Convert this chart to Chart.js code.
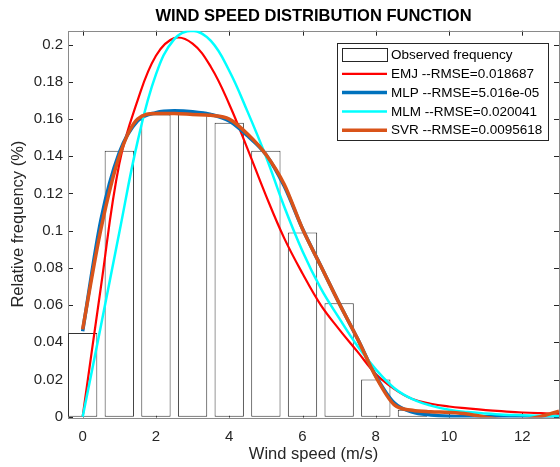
<!DOCTYPE html>
<html>
<head>
<meta charset="utf-8">
<script src="https://cdn.jsdelivr.net/npm/chart.js@4.4.1/dist/chart.umd.min.js"></script>
<style>
  body { margin: 0; background: #fff; }
</style>
</head>
<body>
<canvas id="windChart" width="560" height="467"></canvas>
<script>
// wind speed grid (m/s) for the fitted curves
const speeds = [0, 0.5, 1, 1.5, 2, 2.5, 3, 3.5, 4, 4.5, 5, 5.5, 6, 6.5, 7, 7.5, 8, 8.5, 9, 9.5, 10, 10.5, 11, 11.5, 12, 12.5, 13];

// histogram bins
const binCenters = [0, 1, 2, 3, 4, 5, 6, 7, 8, 9];
const observed = [0.045, 0.143, 0.1625, 0.164, 0.158, 0.143, 0.099, 0.061, 0.020, 0.0037];

// fitted curves
const emj = [0, 0.070, 0.136, 0.170, 0.194, 0.2035, 0.2005, 0.188, 0.168, 0.144, 0.119, 0.096, 0.077, 0.060, 0.047, 0.035, 0.023, 0.015, 0.0095, 0.007, 0.0055, 0.0045, 0.0036, 0.0029, 0.0023, 0.0019, 0.0016];
const mlp = [0.046, 0.106, 0.142, 0.159, 0.1635, 0.1645, 0.164, 0.1625, 0.159, 0.151, 0.141, 0.124, 0.101, 0.081, 0.061, 0.042, 0.022, 0.0075, 0.0025, 0.001, 0.0003, 0, 0, 0, 0, 0, 0];
const mlm = [0, 0.049, 0.099, 0.148, 0.184, 0.203, 0.2075, 0.202, 0.186, 0.164, 0.140, 0.113, 0.089, 0.069, 0.053, 0.038, 0.0255, 0.0155, 0.0095, 0.006, 0.0038, 0.0025, 0.0017, 0.0011, 0.0008, 0.0005, 0.0004];
const svr = [0.047, 0.101, 0.140, 0.160, 0.163, 0.163, 0.1625, 0.162, 0.160, 0.152, 0.141, 0.125, 0.101, 0.081, 0.061, 0.042, 0.0215, 0.0065, 0.0035, 0.0027, 0.0023, 0.0015, -0.0002, -0.0016, -0.0015, 0.0002, 0.003];

const xTicks = [0, 2, 4, 6, 8, 10, 12];
const yTicks = [0, 0.02, 0.04, 0.06, 0.08, 0.1, 0.12, 0.14, 0.16, 0.18, 0.2];

const FONT = 'Liberation Sans, Arial, sans-serif';

function toPoints(ys) {
  return ys.map((y, i) => ({ x: speeds[i], y: y }));
}

function curve(label, ys, color, width, order, smooth) {
  return {
    type: 'line',
    label: label,
    data: toPoints(ys),
    borderColor: color,
    borderWidth: width,
    pointRadius: 0,
    fill: false,
    cubicInterpolationMode: smooth ? 'default' : 'monotone',
    tension: 0.4,
    order: order
  };
}

// MATLAB style box with inward ticks on all four sides
const axesBox = {
  id: 'axesBox',
  beforeDatasetsDraw(chart) {
    const { ctx, chartArea: a, scales: { x, y } } = chart;
    ctx.save();
    ctx.strokeStyle = '#262626';
    ctx.lineWidth = 1;
    ctx.beginPath();
    xTicks.forEach(v => {
      const px = Math.round(x.getPixelForValue(v)) + 0.5;
      ctx.moveTo(px, a.bottom); ctx.lineTo(px, a.bottom - 5);
      ctx.moveTo(px, a.top); ctx.lineTo(px, a.top + 5);
    });
    yTicks.forEach(v => {
      const py = Math.round(y.getPixelForValue(v)) + 0.5;
      ctx.moveTo(a.left, py); ctx.lineTo(a.left + 5, py);
      ctx.moveTo(a.right, py); ctx.lineTo(a.right - 5, py);
    });
    ctx.stroke();
    ctx.strokeStyle = '#8a8a8a';
    ctx.strokeRect(Math.round(a.left) + 0.5, Math.round(a.top) + 0.5,
      Math.round(a.right - a.left), Math.round(a.bottom - a.top));
    ctx.restore();
  }
};

// legend box inside the plot, top right
const boxLegend = {
  id: 'boxLegend',
  afterDatasetsDraw(chart) {
    const { ctx } = chart;
    const left = 337.5, top = 43.5, w = 211, h = 97;
    const rowH = 18.8, firstRow = 55;
    ctx.save();
    ctx.fillStyle = '#fff';
    ctx.fillRect(left, top, w, h);
    ctx.strokeStyle = '#262626';
    ctx.lineWidth = 1;
    ctx.strokeRect(left, top, w, h);
    ctx.font = '13.5px ' + FONT;
    ctx.textBaseline = 'middle';
    ctx.textAlign = 'left';
    chart.data.datasets.forEach((ds, i) => {
      const cy = firstRow + i * rowH;
      if (ds.type === 'bar') {
        ctx.fillStyle = '#fff';
        ctx.fillRect(342.5, cy - 6.5, 45, 13);
        ctx.strokeStyle = '#262626';
        ctx.lineWidth = 1;
        ctx.strokeRect(342.5, cy - 6.5, 45, 13);
      } else {
        ctx.strokeStyle = ds.borderColor;
        ctx.lineWidth = ds.borderWidth;
        ctx.beginPath();
        ctx.moveTo(342, cy);
        ctx.lineTo(387, cy);
        ctx.stroke();
      }
      ctx.fillStyle = '#000';
      ctx.fillText(ds.label, 391, cy + 0.5);
    });
    ctx.restore();
  }
};

new Chart(document.getElementById('windChart'), {
  type: 'bar',
  data: {
    datasets: [
      {
        type: 'bar',
        label: 'Observed frequency',
        data: binCenters.map((c, i) => ({ x: c, y: observed[i] })),
        backgroundColor: '#ffffff',
        borderColor: '#333333',
        borderWidth: 1,
        borderSkipped: false,
        barPercentage: 0.8,
        categoryPercentage: 1,
        order: 5
      },
      curve('EMJ --RMSE=0.018687', emj, '#ff0000', 2.2, 4, true),
      curve('MLP --RMSE=5.016e-05', mlp, '#0072bd', 3.5, 3, false),
      curve('MLM --RMSE=0.020041', mlm, '#00ffff', 2.5, 2, true),
      curve('SVR --RMSE=0.0095618', svr, '#d95319', 3.5, 1, false)
    ]
  },
  options: {
    responsive: false,
    animation: false,
    layout: { padding: { left: 0, right: 1, top: 0, bottom: 0 } },
    plugins: {
      legend: { display: false },
      tooltip: { enabled: false },
      title: {
        display: true,
        fullSize: false,
        text: 'WIND SPEED DISTRIBUTION FUNCTION',
        color: '#000',
        font: { family: FONT, size: 16.5, weight: 'bold' },
        padding: { top: 7, bottom: 3.9 }
      }
    },
    scales: {
      x: {
        type: 'linear',
        min: -0.4,
        max: 13,
        offset: false,
        grid: { display: false, drawTicks: false },
        border: { display: false },
        afterBuildTicks: s => { s.ticks = xTicks.map(v => ({ value: v })); },
        afterFit: s => { s.height = 49.5; },
        ticks: {
          color: '#262626',
          font: { family: FONT, size: 15 },
          padding: 10,
          maxRotation: 0,
          callback: v => String(v)
        },
        title: {
          display: true,
          text: 'Wind speed (m/s)',
          color: '#262626',
          font: { family: FONT, size: 16.5 },
          padding: { top: 0, bottom: 2.6 }
        }
      },
      y: {
        type: 'linear',
        min: -0.0004,
        max: 0.2075,
        grid: { display: false, drawTicks: false },
        border: { display: false },
        afterBuildTicks: s => { s.ticks = yTicks.map(v => ({ value: v })); },
        afterFit: s => { s.width = 68; },
        ticks: {
          color: '#262626',
          font: { family: FONT, size: 15 },
          padding: 5,
          callback: v => String(v)
        },
        title: {
          display: true,
          text: 'Relative frequency (%)',
          color: '#262626',
          font: { family: FONT, size: 16.5 },
          padding: { top: 8.6, bottom: 0 }
        }
      }
    }
  },
  plugins: [axesBox, boxLegend]
});
</script>
</body>
</html>
